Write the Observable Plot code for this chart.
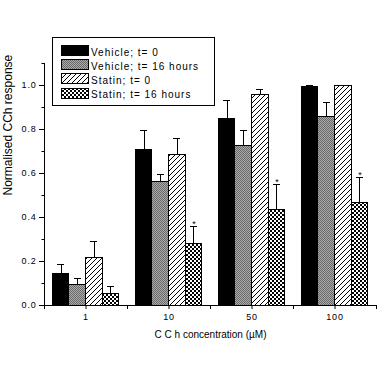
<!DOCTYPE html>
<html>
<head>
<meta charset="utf-8">
<script src="https://cdn.jsdelivr.net/npm/d3@7"></script>
<script src="https://cdn.jsdelivr.net/npm/@observablehq/plot@0.6"></script>
<style>
  html, body { margin: 0; padding: 0; background: white; }
  #chart { position: relative; width: 380px; height: 370px; }
  svg g[aria-label="x-axis tick label"], svg g[aria-label="y-axis tick label"] { letter-spacing: 0.8px; }
</style>
</head>
<body>
<div id="chart"></div>
<script>
// ---- data ----
const concentrations = ["1", "10", "50", "100"];
const seriesNames = ["Vehicle; t= 0", "Vehicle; t= 16 hours", "Statin; t= 0", "Statin; t= 16 hours"];
const vehicle0    = [0.141, 0.705, 0.848, 0.995];
const vehicle0Err = [0.045, 0.089, 0.082, 0.005];
const vehicle16    = [0.094, 0.562, 0.726, 0.858];
const vehicle16Err = [0.027, 0.033, 0.068, 0.066];
const statin0    = [0.218, 0.686, 0.958, 1.000];
const statin0Err = [0.073, 0.072, 0.022, 0.000];
const statin16    = [0.053, 0.280, 0.435, 0.464];
const statin16Err = [0.033, 0.078, 0.114, 0.116];
const statin16Sig = [false, true, true, true];
const yMajorTicks = [0, 0.2, 0.4, 0.6, 0.8, 1.0];
const yMinorTicks = [0.1, 0.3, 0.5, 0.7, 0.9, 1.1];
const xTitle = "C C h concentration (\u00b5M)";
const yTitle = "Normalised CCh response";

// ---- build table ----
const values = [vehicle0, vehicle16, statin0, statin16];
const errors = [vehicle0Err, vehicle16Err, statin0Err, statin16Err];
const sig = [null, null, null, statin16Sig];
const rows = [];
seriesNames.forEach((name, s) => {
  concentrations.forEach((c, g) => {
    rows.push({series: name, s, conc: c, g, value: values[s][g], err: errors[s][g], sig: sig[s] ? sig[s][g] : false});
  });
});

const fills = ["black", "url(#pGray)", "url(#pHatch)", "url(#pCross)"];
const groupPad = 0.1, barW = 0.2, capHalf = 0.04;
const bx1 = d => d.g + groupPad + d.s * barW;
const bx2 = d => d.g + groupPad + (d.s + 1) * barW;
const bxc = d => d.g + groupPad + (d.s + 0.5) * barW;
const yDomain = [0, 1.1];
const xDomain = [0, concentrations.length];

const barMarks = seriesNames.map((name, s) =>
  Plot.rect(rows.filter(d => d.s === s), {
    x1: bx1, x2: bx2, y1: 0, y2: "value",
    fill: fills[s], stroke: "black", strokeWidth: 1, shapeRendering: "crispEdges"
  })
);
const errRows = rows.filter(d => d.err > 0);

const svg = Plot.plot({
  width: 380,
  height: 370,
  marginLeft: 44,
  marginRight: 4,
  marginTop: 63,
  marginBottom: 65,
  style: {background: "white", color: "black", fontFamily: "'Liberation Sans', Arial, sans-serif", fontSize: "9px"},
  x: {domain: xDomain},
  y: {domain: yDomain},
  marks: [
    ...barMarks,
    Plot.ruleX(errRows, {x: bxc, y1: "value", y2: d => d.value + d.err, stroke: "black", strokeWidth: 1, shapeRendering: "crispEdges"}),
    Plot.ruleY(errRows, {y: d => d.value + d.err, x1: d => bxc(d) - capHalf, x2: d => bxc(d) + capHalf, stroke: "black", strokeWidth: 1, shapeRendering: "crispEdges"}),
    Plot.text(rows.filter(d => d.sig), {x: bxc, y: d => d.value + d.err, text: () => "*", dy: -3, fontSize: 9, fill: "black"}),
    Plot.ruleX([xDomain[0]], {y1: yDomain[0], y2: yDomain[1], stroke: "black", shapeRendering: "crispEdges"}),
    Plot.ruleY([yDomain[0]], {x1: xDomain[0], x2: xDomain[1], stroke: "black", shapeRendering: "crispEdges"}),
    Plot.axisY({ticks: yMajorTicks, tickFormat: d3.format(".1f"), tickSize: 5, tickPadding: 3, label: null}),
    Plot.axisY({ticks: yMinorTicks, tickFormat: () => "", tickSize: 2.5, label: null}),
    Plot.axisX({
      ticks: d3.range(0, concentrations.length * 2 + 1).map(i => i / 2),
      tickFormat: d => (d % 1 === 0.5 ? concentrations[Math.floor(d)] : ""),
      tickSize: 4, tickPadding: 4, label: null
    }),
    Plot.text([xTitle], {frameAnchor: "bottom", x: (xDomain[0] + xDomain[1]) / 2, dy: 32, fontSize: 10, fill: "black"}),
    Plot.text([yTitle], {frameAnchor: "left", y: (yMajorTicks[0] + yMajorTicks[yMajorTicks.length - 1]) / 2, dx: -36, rotate: -90, fontSize: 12, fill: "black"})
  ]
});

// ---- patterns ----
const sel = d3.select(svg);
const defs = sel.insert("defs", ":first-child");
const pg = defs.append("pattern").attr("id", "pGray").attr("patternUnits", "userSpaceOnUse").attr("width", 2).attr("height", 2);
pg.append("rect").attr("width", 2).attr("height", 2).attr("fill", "#a9a9a9");
pg.append("rect").attr("x", 0).attr("y", 0).attr("width", 1).attr("height", 1).attr("fill", "#6a6a6a");
pg.append("rect").attr("x", 1).attr("y", 1).attr("width", 1).attr("height", 1).attr("fill", "#6a6a6a");
const ph = defs.append("pattern").attr("id", "pHatch").attr("patternUnits", "userSpaceOnUse").attr("width", 5).attr("height", 5);
ph.append("rect").attr("width", 5).attr("height", 5).attr("fill", "white");
ph.append("path").attr("d", "M-1,1 L1,-1 M0,5 L5,0 M4,6 L6,4").attr("stroke", "black").attr("stroke-width", 1);
const pc = defs.append("pattern").attr("id", "pCross").attr("patternUnits", "userSpaceOnUse").attr("width", 4).attr("height", 4);
pc.append("rect").attr("width", 4).attr("height", 4).attr("fill", "white");
pc.append("rect").attr("x", 0).attr("y", 0).attr("width", 2).attr("height", 2).attr("fill", "black");
pc.append("rect").attr("x", 2).attr("y", 2).attr("width", 2).attr("height", 2).attr("fill", "black");

// ---- legend ----
const lg = sel.append("g").attr("font-family", "'Liberation Sans', Arial, sans-serif").attr("text-anchor", "start");
lg.append("rect").attr("x", 52.5).attr("y", 37.5).attr("width", 162).attr("height", 68)
  .attr("fill", "white").attr("stroke", "black").attr("shape-rendering", "crispEdges");
seriesNames.forEach((name, s) => {
  const top = 45.5 + s * 14.2;
  lg.append("rect").attr("x", 61.5).attr("y", top).attr("width", 27).attr("height", 10)
    .attr("fill", fills[s]).attr("stroke", "black").attr("shape-rendering", "crispEdges");
  lg.append("text").attr("x", 91).attr("y", top + 10).attr("font-size", 10)
    .attr("text-anchor", "start").attr("letter-spacing", "1px").attr("fill", "black").text(name);
});

document.getElementById("chart").appendChild(svg);
</script>
</body>
</html>
